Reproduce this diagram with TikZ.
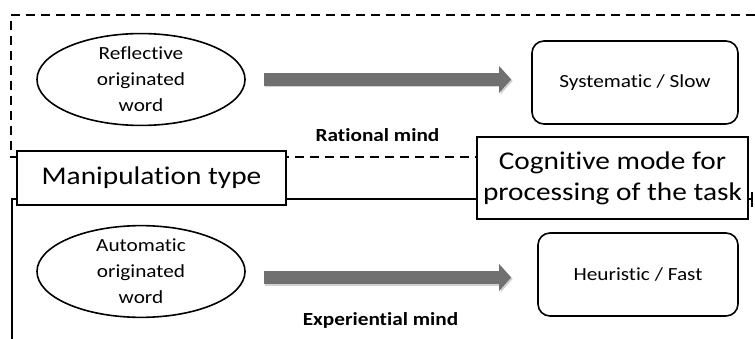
\documentclass[tikz,border=0pt]{standalone}
\usepackage{fontspec}
\setmainfont{Carlito}[FakeStretch=1.15,Ligatures=NoCommon]
\usetikzlibrary{shapes.geometric,arrows.meta}
\tikzset{
  oval/.style={ellipse,draw,line width=1.6pt,fill=white,minimum width=208pt,minimum height=91pt,inner sep=0pt,align=center,font=\fontsize{18.5}{26}\selectfont},
  modebox/.style={rectangle,draw,line width=1.6pt,rounded corners=12pt,fill=white,inner sep=0pt,minimum height=83pt,font=\fontsize{18.5}{26}\selectfont},
  titlebox/.style={rectangle,draw,line width=1.6pt,fill=white,inner sep=0pt,align=center,font=\fontsize{25.5}{31}\selectfont},
  mindlabel/.style={anchor=base,inner sep=0pt,font=\fontsize{18.5}{22}\selectfont\bfseries},
  framedash/.style={line width=1.4pt,dash pattern=on 9pt off 6pt},
  framesolid/.style={line width=1.4pt},
  fatarrow/.style={line width=13pt,draw=arrowgray,-{Triangle[width=26pt,length=12pt]},shorten <=18pt},
  fatshadow/.style={line width=13pt,draw=black!18,-{Triangle[width=26pt,length=12pt]},shorten <=18pt}
}
\definecolor{arrowgray}{RGB}{112,112,112}
\begin{document}
\begin{tikzpicture}[x=1pt,y=-1pt]
\useasboundingbox (0,0) rectangle (755,339);
% frames
\draw[framedash] (755,15) -- (11,15) -- (11,157) -- (477,157);
\draw[framesolid] (12,339) -- (12,199) -- (752,199);
\draw[framesolid] (752,192) -- (752,207);
% nodes
\node[oval] (e1) at (141,79.5) {Reflective\\originated\\word};
\node[oval] (e2) at (141,271.5) {Automatic\\originated\\word};
\node[modebox,minimum width=206pt] (b1) at (635,82.5) {Systematic / Slow};
\node[modebox,minimum width=200pt] (b2) at (638,274.5) {Heuristic / Fast};
\node[titlebox,minimum width=269pt,minimum height=54pt] (man) at (151.5,178) {Manipulation type};
\node[titlebox,minimum width=271pt,minimum height=82pt] (cog) at (612.5,178) {Cognitive mode for\\processing of the task};
\node[mindlabel] (rat) at (377.5,142) {Rational mind};
\node[mindlabel] (exp) at (380.5,325) {Experiential mind};
% arrows
\draw[fatshadow,shorten >=20pt,transform canvas={shift={(1.5pt,-1.5pt)}}] (e1.east) -- (e1.east -| b1.west);
\draw[fatarrow,shorten >=20pt] (e1.east) -- (e1.east -| b1.west);
\draw[fatshadow,shorten >=26pt,transform canvas={shift={(1.5pt,-1.5pt)}}] ([yshift=-6pt]e2.east) -- ([yshift=-6pt]e2.east -| b2.west);
\draw[fatarrow,shorten >=26pt] ([yshift=-6pt]e2.east) -- ([yshift=-6pt]e2.east -| b2.west);
\end{tikzpicture}
\end{document}
